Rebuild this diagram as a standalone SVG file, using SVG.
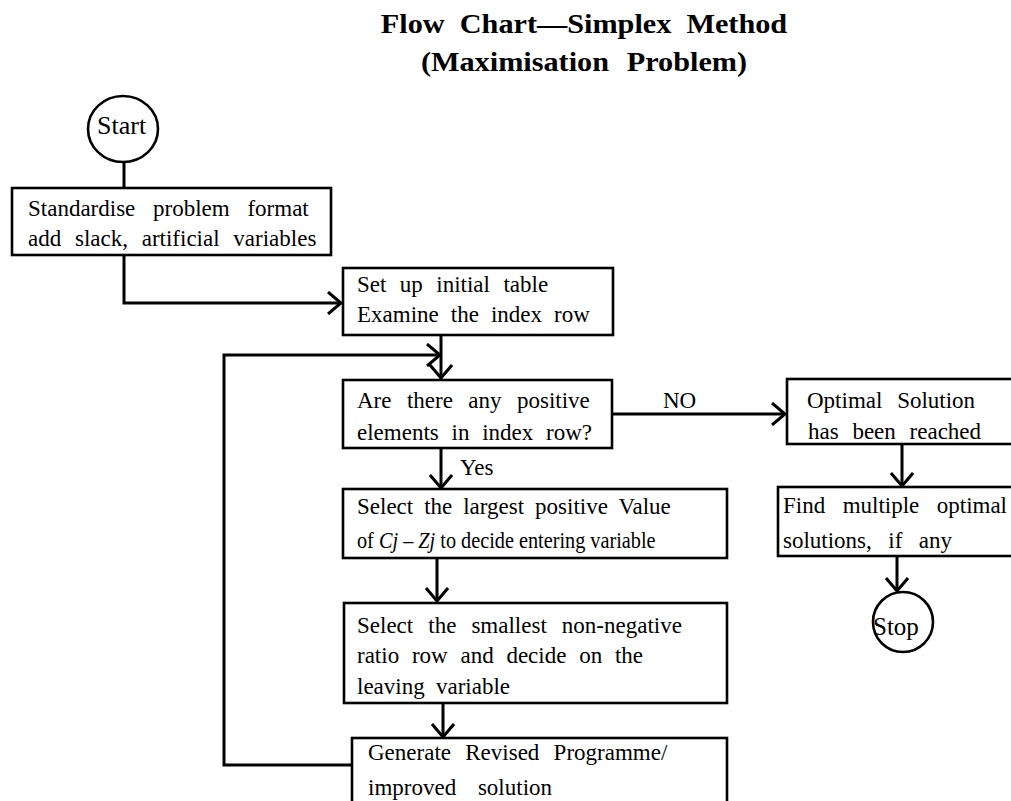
<svg xmlns="http://www.w3.org/2000/svg" width="1011" height="801" viewBox="0 0 1011 801">
  <style>
    .box { fill: #fff; stroke: #000; stroke-width: 2.6; }
    .term { fill: #fff; stroke: #000; stroke-width: 2.6; }
    .t { font-family: "Liberation Serif", "Times New Roman", serif; font-size: 23px; fill: #000; }
    .title { font-family: "Liberation Serif", "Times New Roman", serif; font-size: 28px; font-weight: bold; fill: #000; text-anchor: middle; }
    .wire { fill: none; stroke: #000; stroke-width: 3; }
  </style>
  <defs>
    <marker id="chev" viewBox="-14 -12 16 24" refX="0" refY="0" markerWidth="16" markerHeight="24" markerUnits="userSpaceOnUse" orient="auto">
      <path d="M-13,-11 L0,0 L-13,11" fill="none" stroke="#000" stroke-width="3"/>
    </marker>
  </defs>

  <rect width="1011" height="801" fill="#fff"/>

  <!-- heading, slightly widened type -->
  <g transform="translate(584,0) scale(1.08,1)">
    <text class="title" x="0" y="33" word-spacing="7">Flow Chart—Simplex Method</text>
    <text class="title" x="0" y="71" word-spacing="9.5">(Maximisation Problem)</text>
  </g>

  <!-- connectors -->
  <g id="connectors">
    <line class="wire" x1="124" y1="162" x2="124" y2="188"/>
    <polyline class="wire" points="124,255 124,303 341,303" marker-end="url(#chev)"/>
    <line class="wire" x1="441" y1="335" x2="441" y2="378" marker-end="url(#chev)"/>
    <polyline class="wire" points="352,765 224,765 224,355 440,355" marker-end="url(#chev)"/>
    <line class="wire" x1="612" y1="414" x2="785" y2="414" marker-end="url(#chev)"/>
    <line class="wire" x1="441" y1="448" x2="441" y2="488" marker-end="url(#chev)"/>
    <line class="wire" x1="437" y1="558" x2="437" y2="601" marker-end="url(#chev)"/>
    <line class="wire" x1="443" y1="703" x2="443" y2="737" marker-end="url(#chev)"/>
    <line class="wire" x1="902" y1="444" x2="902" y2="486" marker-end="url(#chev)"/>
    <line class="wire" x1="897" y1="556" x2="897" y2="591" marker-end="url(#chev)"/>
    <text class="t" x="663" y="408">NO</text>
    <text class="t" x="460" y="475">Yes</text>
  </g>

  <g id="start">
    <ellipse class="term" cx="123" cy="129" rx="35" ry="33"/>
    <text class="t" x="97" y="134" style="font-size:26px">Start</text>
  </g>

  <g id="standardise">
    <rect class="box" x="12" y="188" width="319" height="67"/>
    <text class="t" x="28" y="216" word-spacing="12">Standardise problem format</text>
    <text class="t" x="28" y="246" word-spacing="8">add slack, artificial variables</text>
  </g>

  <g id="setup">
    <rect class="box" x="343" y="268" width="270" height="67"/>
    <text class="t" x="357" y="292" word-spacing="7.7">Set up initial table</text>
    <text class="t" x="357" y="322" word-spacing="6.3">Examine the index row</text>
  </g>

  <g id="positive-check">
    <rect class="box" x="343" y="380" width="269" height="68"/>
    <text class="t" x="357" y="408" word-spacing="9.7">Are there any positive</text>
    <text class="t" x="357" y="440" word-spacing="7">elements in index row?</text>
  </g>

  <g id="optimal">
    <rect class="box" x="787" y="379" width="240" height="65"/>
    <text class="t" x="807" y="408" word-spacing="9">Optimal Solution</text>
    <text class="t" x="808" y="439" word-spacing="8">has been reached</text>
  </g>

  <g id="multiple">
    <rect class="box" x="778" y="487" width="250" height="69"/>
    <text class="t" x="783" y="513" word-spacing="11.7">Find multiple optimal</text>
    <text class="t" x="783" y="548" word-spacing="10.7">solutions, if any</text>
  </g>

  <g id="stop">
    <circle class="term" cx="903" cy="622" r="30"/>
    <text class="t" x="873" y="635" style="font-size:25px">Stop</text>
  </g>

  <g id="entering">
    <rect class="box" x="343" y="489" width="384" height="69"/>
    <text class="t" x="357" y="514" word-spacing="5.2">Select the largest positive Value</text>
    <text class="t" transform="translate(357,548) scale(0.881,1)">of <tspan font-style="italic">Cj</tspan> – <tspan font-style="italic">Zj</tspan> to decide entering variable</text>
  </g>

  <g id="leaving">
    <rect class="box" x="344" y="603" width="383" height="100"/>
    <text class="t" x="357" y="633" word-spacing="9.3">Select the smallest non-negative</text>
    <text class="t" x="357" y="663" word-spacing="7">ratio row and decide on the</text>
    <text class="t" x="357" y="694" word-spacing="5.5">leaving variable</text>
  </g>

  <g id="revise">
    <rect class="box" x="352" y="738" width="375" height="80"/>
    <text class="t" x="368" y="760" word-spacing="8.5">Generate Revised Programme/</text>
    <text class="t" x="368" y="795" word-spacing="16">improved solution</text>
  </g>
</svg>
